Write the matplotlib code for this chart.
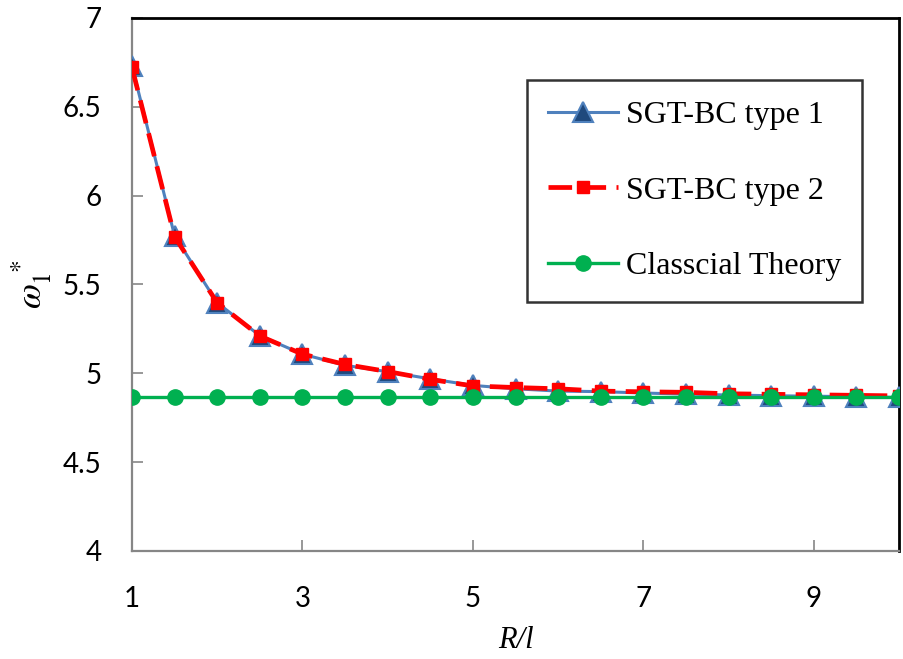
import matplotlib
matplotlib.use("Agg")
import matplotlib.pyplot as plt

# ---- data ----
r_over_l = [1, 1.5, 2, 2.5, 3, 3.5, 4, 4.5, 5, 5.5, 6, 6.5, 7, 7.5, 8, 8.5, 9, 9.5, 10]
sgt_type1 = [6.730, 5.774, 5.397, 5.212, 5.108, 5.045, 5.009, 4.969, 4.932, 4.913,
             4.900, 4.897, 4.889, 4.883, 4.878, 4.874, 4.871, 4.869, 4.864]
sgt_type2 = [6.722, 5.769, 5.397, 5.210, 5.108, 5.050, 5.010, 4.966, 4.929, 4.920,
             4.913, 4.900, 4.896, 4.893, 4.885, 4.882, 4.879, 4.876, 4.873]
classical = [4.865] * len(r_over_l)
x_ticks = [1, 3, 5, 7, 9]
y_ticks = [4, 4.5, 5, 5.5, 6, 6.5, 7]
y_tick_labels = ["4", "4.5", "5", "5.5", "6", "6.5", "7"]
labels = ["SGT-BC type 1", "SGT-BC type 2", "Classcial Theory"]

plt.rcParams["mathtext.fontset"] = "stix"
tick_font = "Lato"
serif_font = "Liberation Serif"

fig = plt.figure(figsize=(9.04, 6.59), dpi=100)
ax = fig.add_axes([0.146, 0.1639, 0.8485, 0.8088])

ax.plot(r_over_l, sgt_type1, color="#4F81BD", lw=2.2, marker="^", ms=15,
        mfc="#1F497D", mec="#4F81BD", mew=1.5, label=labels[0], zorder=3)
ax.plot(r_over_l, sgt_type2, color="#FF0000", lw=3.4, ls=(0, (5, 2.2)), marker="s", ms=9,
        mfc="#FF0000", mec="#FF0000", label=labels[1], zorder=4)
ax.plot(r_over_l, classical, color="#00B050", lw=2.4, marker="o", ms=11,
        mfc="#00B050", mec="#00B050", label=labels[2], zorder=5)

ax.set_xlim(1, 10)
ax.set_ylim(4, 7)
ax.set_xticks(x_ticks)
ax.set_yticks(y_ticks)
ax.set_yticklabels(y_tick_labels)

for side in ("left", "bottom"):
    ax.spines[side].set_color("#868686")
    ax.spines[side].set_linewidth(1.6)
for side in ("top", "right"):
    ax.spines[side].set_color("black")
    ax.spines[side].set_linewidth(2.0)

ax.tick_params(axis="both", direction="in", length=8, width=1.2, color="#868686")
ax.tick_params(axis="x", pad=25, labelsize=20)
ax.tick_params(axis="y", pad=22, labelsize=20)
for lab in ax.get_xticklabels() + ax.get_yticklabels():
    lab.set_fontfamily(tick_font)

ax.set_xlabel("R/l", fontfamily=serif_font, fontstyle="italic", fontsize=22, labelpad=10)
ax.set_ylabel(r"$\omega_{\mathit{1}}^{\ *}$", fontsize=26, labelpad=6)

leg = ax.legend(loc="upper right", bbox_to_anchor=(0.952, 0.884),
                prop={"family": serif_font, "size": 23}, frameon=True, fancybox=False,
                edgecolor="black", handlelength=2.2, borderpad=0.65, labelspacing=1.45,
                handletextpad=0.25, borderaxespad=0)
leg.get_frame().set_linewidth(1.8)

fig.savefig("out.png", dpi=100)
